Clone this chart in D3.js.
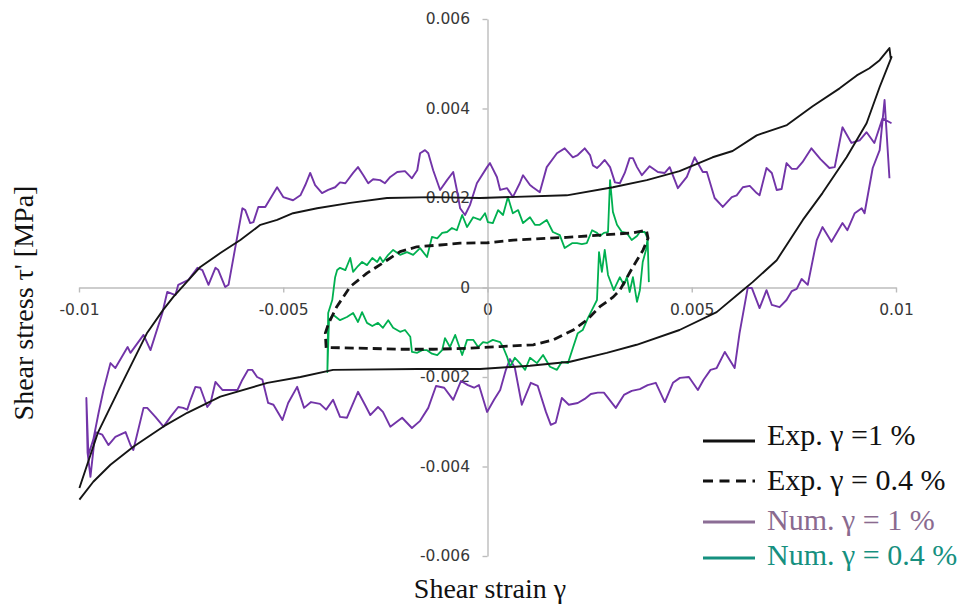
<!DOCTYPE html>
<html>
<head>
<meta charset="utf-8">
<script src="https://cdn.jsdelivr.net/npm/d3@7"></script>
<style>
  body { margin: 0; background: #fff; }
  svg { display: block; }
</style>
</head>
<body>
<svg width="961" height="604"></svg>
<script>
// values in 1e-3 units: [shear strain * 1000, shear stress (MPa) * 1000]
const expLarge = [
  [-9.99,-4.48],[-9.54,-3.25],[-9.06,-2.35],[-8.33,-1.01],[-7.94,-0.50],[-7.69,-0.21],[-7.03,0.46],
  [-6.54,0.77],[-6.05,1.06],[-5.56,1.40],[-5.15,1.51],[-4.76,1.66],[-4.17,1.77],[-3.36,1.89],
  [-2.46,2.00],[-1.33,2.02],[-0.18,2.00],[1.94,2.06],[3.07,2.24],[3.90,2.40],[4.70,2.60],[5.51,2.91],
  [6.00,3.05],[6.59,3.40],[7.33,3.63],[7.96,4.05],[8.62,4.45],[9.04,4.74],[9.35,4.90],[9.60,5.08],
  [9.84,5.35],[9.87,5.13],[9.89,5.15],[9.60,4.48],[9.28,3.67],[8.79,2.91],[8.20,2.11],[7.72,1.51],
  [7.08,0.61],[6.49,0.12],[6.25,-0.06],[5.61,-0.55],[4.70,-0.95],[3.65,-1.28],[2.92,-1.46],
  [2.02,-1.66],[1.04,-1.75],[-0.18,-1.82],[-1.72,-1.82],[-3.78,-1.84],[-4.58,-2.00],[-5.39,-2.13],
  [-6.54,-2.44],[-7.35,-2.80],[-7.94,-3.11],[-8.67,-3.56],[-9.23,-3.96],[-9.65,-4.34],[-9.99,-4.74]
];

const expSmall = [
  [-3.95,-1.35],[-3.97,-1.02],[-3.89,-0.80],[-3.69,-0.43],[-3.36,0.02],[-2.95,0.32],[-2.46,0.61],
  [-2.14,0.80],[-1.73,0.91],[-1.16,0.95],[-0.67,0.99],[0.00,1.00],[0.63,1.06],[1.45,1.10],[1.94,1.12],
  [2.75,1.17],[3.56,1.22],[3.89,1.28],[3.93,1.10],[3.81,0.84],[3.56,0.46],[3.24,-0.06],[3.08,-0.21],
  [2.75,-0.43],[2.43,-0.73],[2.10,-0.95],[1.61,-1.17],[1.12,-1.28],[0.31,-1.32],[-0.51,-1.36],
  [-1.33,-1.38],[-2.14,-1.38],[-2.95,-1.36],[-3.93,-1.34]
];

const numLarge = [
  [9.89,3.67],[9.67,3.78],[9.47,3.23],[9.28,3.47],[9.11,3.29],[8.91,3.23],[8.69,3.58],[8.50,2.69],
  [8.37,2.67],[8.15,2.87],[7.93,3.11],[7.71,2.80],[7.57,2.65],[7.45,2.65],[7.32,2.78],[7.20,2.20],
  [7.08,2.18],[6.96,2.56],[6.83,2.67],[6.66,2.06],[6.59,2.11],[6.42,2.27],[6.25,2.24],[6.10,2.06],
  [5.98,2.02],[5.76,1.80],[5.56,2.00],[5.37,2.58],[5.27,2.58],[5.07,2.91],[4.88,2.47],[4.66,2.22],
  [4.46,2.69],[4.34,2.56],[4.17,2.58],[3.97,2.71],[3.78,2.51],[3.66,2.69],[3.56,2.89],[3.48,2.89],
  [3.36,2.56],[3.24,2.33],[3.12,2.35],[3.00,2.69],[2.87,2.85],[2.75,2.73],[2.68,2.67],[2.58,2.73],
  [2.51,2.96],[2.38,3.11],[2.21,2.96],[2.09,2.91],[1.89,3.11],[1.70,3.00],[1.45,2.69],[1.28,2.13],
  [1.11,2.24],[1.04,2.29],[0.87,2.51],[0.79,2.33],[0.62,2.02],[0.48,2.22],[0.31,2.18],[0.23,2.47],
  [0.06,2.78],[-0.01,2.69],[-0.26,2.33],[-0.43,1.84],[-0.55,1.62],[-0.67,1.77],[-0.75,2.18],
  [-0.84,2.58],[-0.99,2.40],[-1.16,2.18],[-1.33,2.62],[-1.45,3.00],[-1.53,3.07],[-1.65,3.00],
  [-1.72,2.62],[-1.85,2.44],[-2.02,2.60],[-2.21,2.58],[-2.38,2.47],[-2.51,2.33],[-2.63,2.40],
  [-2.80,2.42],[-2.92,2.33],[-3.04,2.51],[-3.17,2.69],[-3.29,2.56],[-3.48,2.33],[-3.61,2.35],
  [-3.73,2.24],[-3.90,2.18],[-4.05,2.11],[-4.22,2.29],[-4.34,2.56],[-4.46,2.29],[-4.58,2.06],
  [-4.76,1.95],[-5.00,2.02],[-5.15,2.24],[-5.44,1.80],[-5.61,1.80],[-5.73,1.46],[-5.81,1.44],
  [-5.93,1.73],[-6.00,1.77],[-6.34,0.06],[-6.42,0.01],[-6.59,0.39],[-6.66,0.44],[-6.83,0.06],
  [-6.98,0.39],[-7.10,0.44],[-7.32,0.17],[-7.57,0.06],[-7.64,-0.17],[-7.84,-0.10],[-7.96,-0.57],
  [-8.25,-1.40],[-8.42,-1.06],[-8.74,-1.46],[-8.81,-1.33],[-9.11,-1.80],[-9.23,-1.69],[-9.40,-2.29],
  [-9.52,-2.80],[-9.65,-3.40],[-9.77,-3.74],[-9.82,-2.47],[-9.79,-3.69],[-9.72,-4.23],
  [-9.60,-3.23],[-9.43,-3.29],[-9.28,-3.52],[-9.11,-3.34],[-8.86,-3.23],[-8.74,-3.52],[-8.67,-3.63],
  [-8.42,-2.69],[-8.33,-2.69],[-8.13,-2.89],[-7.93,-3.11],[-7.76,-2.89],[-7.57,-2.67],[-7.45,-2.69],
  [-7.35,-2.73],[-7.27,-2.51],[-7.15,-2.22],[-7.03,-2.24],[-6.86,-2.67],[-6.78,-2.58],[-6.66,-2.11],
  [-6.49,-2.29],[-6.30,-2.29],[-6.12,-2.29],[-6.00,-2.06],[-5.86,-1.84],[-5.76,-1.84],[-5.64,-2.00],
  [-5.51,-2.06],[-5.37,-2.58],[-5.24,-2.62],[-5.02,-2.96],[-4.88,-2.58],[-4.66,-2.22],[-4.49,-2.69],
  [-4.32,-2.56],[-4.10,-2.60],[-3.95,-2.73],[-3.78,-2.51],[-3.61,-2.89],[-3.44,-2.91],[-3.17,-2.33],
  [-3.00,-2.62],[-2.87,-2.85],[-2.68,-2.67],[-2.56,-2.78],[-2.38,-3.11],[-2.09,-2.91],[-1.85,-3.14],
  [-1.65,-2.98],[-1.45,-2.69],[-1.26,-2.20],[-1.06,-2.24],[-0.84,-2.51],[-0.65,-2.09],[-0.48,-2.18],
  [-0.33,-2.24],[-0.21,-2.18],[-0.01,-2.78],[0.16,-2.51],[0.31,-2.29],[0.45,-1.84],[0.55,-1.60],
  [0.67,-1.80],[0.84,-2.62],[1.06,-2.13],[1.23,-2.20],[1.43,-2.78],[1.55,-3.07],[1.67,-3.02],
  [1.82,-2.47],[1.99,-2.62],[2.21,-2.58],[2.38,-2.49],[2.53,-2.38],[2.70,-2.35],[2.85,-2.35],
  [3.14,-2.69],[3.34,-2.40],[3.53,-2.31],[3.73,-2.27],[3.92,-2.18],[4.12,-2.13],[4.34,-2.56],
  [4.54,-2.13],[4.71,-2.02],[4.93,-2.00],[5.15,-2.29],[5.29,-2.06],[5.46,-1.84],[5.61,-1.80],
  [5.81,-1.44],[6.05,-1.80],[6.17,-1.02],[6.37,-0.01],[6.47,-0.01],[6.66,-0.46],[6.83,-0.06],
  [6.96,-0.39],[7.15,-0.44],[7.32,-0.28],[7.45,-0.08],[7.57,-0.03],[7.69,0.19],[7.84,0.06],
  [8.06,1.06],[8.20,1.35],[8.42,1.02],[8.69,1.44],[8.81,1.28],[8.99,1.66],[9.16,1.77],[9.23,1.66],
  [9.43,2.67],[9.60,3.07],[9.72,4.19],[9.84,2.44]
];

const numSmall = [
  [3.95,0.12],[3.92,1.10],[3.85,1.24],[3.73,1.24],[3.66,1.15],[3.53,1.06],[3.41,1.22],[3.29,1.24],
  [3.17,1.40],[3.07,1.69],[3.00,2.40],[2.95,1.24],[2.85,1.22],[2.75,1.15],[2.68,1.22],[2.56,1.28],
  [2.43,0.99],[2.31,0.97],[2.19,0.99],[2.07,0.99],[1.89,0.88],[1.77,1.17],[1.60,1.24],[1.45,1.51],
  [1.28,1.40],[1.16,1.40],[1.04,1.57],[0.87,1.44],[0.75,1.73],[0.62,1.66],[0.50,2.02],[0.38,1.62],
  [0.26,1.73],[0.13,1.44],[0.01,1.46],[-0.06,1.66],[-0.18,1.51],[-0.35,1.57],[-0.50,1.35],
  [-0.62,1.62],[-0.75,1.28],[-0.87,1.33],[-0.99,1.24],[-1.11,1.22],[-1.23,1.10],[-1.36,1.13],
  [-1.48,0.68],[-1.65,0.88],[-1.82,0.73],[-1.97,0.79],[-2.14,0.73],[-2.31,0.84],[-2.43,0.73],
  [-2.56,0.57],[-2.63,0.68],[-2.70,0.57],[-2.82,0.66],[-2.95,0.50],[-3.07,0.57],[-3.17,0.48],
  [-3.29,0.35],[-3.36,0.66],[-3.48,0.39],[-3.61,0.44],[-3.68,0.39],[-3.73,0.23],[-3.80,-0.28],
  [-3.90,-0.57],[-3.92,-1.89],[-3.88,-0.73],
  [-3.78,-0.61],[-3.61,-0.73],[-3.44,-0.66],[-3.29,-0.57],[-3.17,-0.77],[-3.07,-0.55],[-2.95,-0.79],
  [-2.82,-0.86],[-2.68,-0.79],[-2.56,-0.90],[-2.43,-0.73],[-2.31,-0.90],[-2.14,-0.99],[-2.02,-0.95],
  [-1.89,-1.10],[-1.85,-1.44],[-1.72,-1.46],[-1.60,-1.40],[-1.48,-1.40],[-1.36,-1.48],[-1.23,-1.51],
  [-1.11,-1.40],[-1.04,-1.13],[-0.92,-1.33],[-0.79,-1.06],[-0.62,-1.51],[-0.50,-1.17],[-0.35,-1.17],
  [-0.23,-1.33],[-0.11,-1.22],[-0.01,-1.24],[0.13,-1.17],[0.31,-1.22],[0.38,-1.33],[0.48,-1.55],
  [0.55,-1.77],[0.67,-1.57],[0.79,-1.69],[0.92,-1.84],[1.04,-1.57],[1.21,-1.69],[1.36,-1.51],
  [1.53,-1.77],[1.70,-1.84],[1.82,-1.66],[1.97,-1.69],[2.09,-1.35],[2.21,-1.02],[2.33,-0.95],
  [2.46,-0.68],[2.58,-0.46],[2.68,-0.28],[2.73,0.79],[2.80,0.35],[2.87,0.84],[2.95,0.28],
  [3.09,-0.06],[3.17,0.10],[3.24,0.23],[3.34,0.06],[3.41,0.23],[3.48,-0.10],[3.56,0.23],
  [3.66,-0.32],[3.73,-0.06],[3.80,0.57],[3.88,0.84],[3.92,1.10]
];

const xTicks = [-0.01, -0.005, 0, 0.005, 0.01];
const yTicks = [-0.006, -0.004, -0.002, 0, 0.002, 0.004, 0.006];
const legendLabels = ["Exp. γ =1 %", "Exp. γ = 0.4 %", "Num. γ = 1 %", "Num. γ = 0.4 %"];

const svg = d3.select("svg");
const x = d3.scaleLinear([-0.01, 0.01], [79, 896]);
const y = d3.scaleLinear([-0.006, 0.006], [556, 19]);
const axisColor = "#bcbcbc";
const labelColor = "#383838";

// axes cross at the origin
const gx = svg.append("g")
    .attr("transform", `translate(0,${y(0)})`)
    .call(d3.axisBottom(x).tickValues(xTicks).tickSize(5).tickSizeOuter(0)
      .tickPadding(11.5).tickFormat(d => String(d)));

const gy = svg.append("g")
    .attr("transform", `translate(${x(0)},0)`)
    .call(d3.axisLeft(y).tickValues(yTicks).tickSize(5).tickSizeOuter(0)
      .tickPadding(12.5).tickFormat(d => String(d)));

[gx, gy].forEach(g => {
  g.select(".domain").attr("stroke", axisColor).attr("stroke-width", 1.4);
  g.selectAll(".tick line").attr("stroke", axisColor).attr("stroke-width", 1.4);
  g.selectAll(".tick text")
    .attr("fill", labelColor)
    .style("font-family", "'DejaVu Sans', sans-serif")
    .style("font-size", "15.5px");
});

const line = d3.line()
    .x(d => x(d[0] / 1000))
    .y(d => y(d[1] / 1000));

const series = [
  {data: numLarge, color: "#7234a8", width: 1.9, dash: null},
  {data: numSmall, color: "#00b050", width: 1.8, dash: null},
  {data: expLarge, color: "#151515", width: 1.9, dash: null},
  {data: expSmall, color: "#151515", width: 2.8, dash: "9,5"}
];

svg.append("g").selectAll("path")
  .data(series)
  .join("path")
    .attr("fill", "none")
    .attr("stroke", d => d.color)
    .attr("stroke-width", d => d.width)
    .attr("stroke-dasharray", d => d.dash)
    .attr("stroke-linejoin", "round")
    .attr("d", d => line(d.data));

// axis titles
svg.append("text")
    .attr("transform", "translate(33,303) rotate(-90)")
    .attr("text-anchor", "middle")
    .style("font-family", "'Liberation Serif', serif")
    .style("font-size", "28px")
    .attr("fill", "#111")
    .text("Shear stress τ' [MPa]");

svg.append("text")
    .attr("x", 490)
    .attr("y", 598)
    .attr("text-anchor", "middle")
    .style("font-family", "'Liberation Serif', serif")
    .style("font-size", "28px")
    .attr("fill", "#111")
    .text("Shear strain γ");

// legend
const legendItems = [
  {label: legendLabels[0], stroke: "#111", text: "#111", dash: null, ly: 441, ty: 445},
  {label: legendLabels[1], stroke: "#111", text: "#111", dash: "10,6.5", ly: 481, ty: 490},
  {label: legendLabels[2], stroke: "#8b6d95", text: "#8a6a8f", dash: null, ly: 522, ty: 530},
  {label: legendLabels[3], stroke: "#15907f", text: "#16907f", dash: null, ly: 558, ty: 565}
];

const legend = svg.append("g");
legend.selectAll("line")
  .data(legendItems)
  .join("line")
    .attr("x1", 703).attr("x2", 755)
    .attr("y1", d => d.ly).attr("y2", d => d.ly)
    .attr("stroke", d => d.stroke)
    .attr("stroke-width", 3.2)
    .attr("stroke-dasharray", d => d.dash);

legend.selectAll("text")
  .data(legendItems)
  .join("text")
    .attr("x", 767)
    .attr("y", d => d.ty)
    .attr("fill", d => d.text)
    .style("font-family", "'Liberation Serif', serif")
    .style("font-size", "30px")
    .text(d => d.label);
</script>
</body>
</html>
